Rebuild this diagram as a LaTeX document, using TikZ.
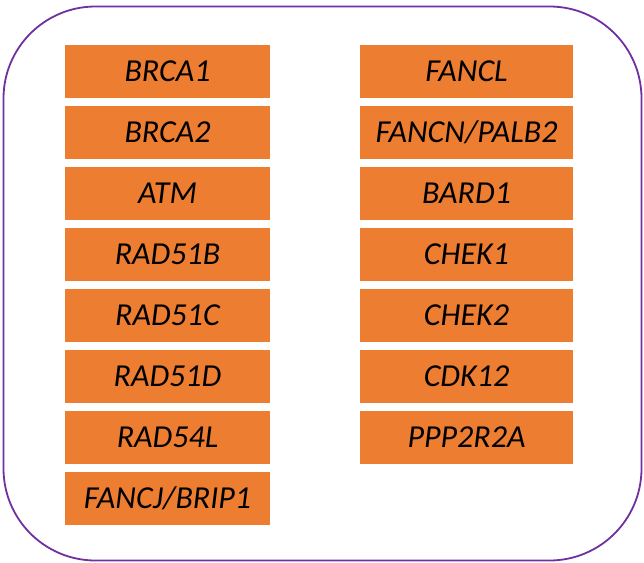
\documentclass[tikz,border=0pt]{standalone}
\usepackage{fontspec}
\setmainfont{Carlito}
\definecolor{boxorange}{HTML}{ED7D31}
\definecolor{framepurple}{HTML}{7030A0}
\begin{document}
\begin{tikzpicture}[x=1pt,y=-1pt,
  gene/.style={fill=boxorange, draw=none, minimum height=52.5pt, inner sep=0pt,
    font=\fontsize{32}{38}\selectfont\itshape, text=black},
  leftgene/.style={gene, minimum width=205pt},
  rightgene/.style={gene, minimum width=213pt}]
\useasboundingbox (0,0) rectangle (644,562);
\draw[framepurple, line width=1.8pt, rounded corners=92pt] (3.5,6.5) rectangle (641.5,560.5);
\foreach \t [count=\i from 0] in {BRCA1,BRCA2,ATM,RAD51B,RAD51C,RAD51D,RAD54L,FANCJ/BRIP1}{
  \node[leftgene] (L\i) at (167.5,{71.5+61*\i}) {\t};
}
\foreach \t [count=\i from 0] in {FANCL,FANCN/PALB2,BARD1,CHEK1,CHEK2,CDK12,PPP2R2A}{
  \node[rightgene] (R\i) at (466.5,{71.5+61*\i}) {\t};
}
\end{tikzpicture}
\end{document}
